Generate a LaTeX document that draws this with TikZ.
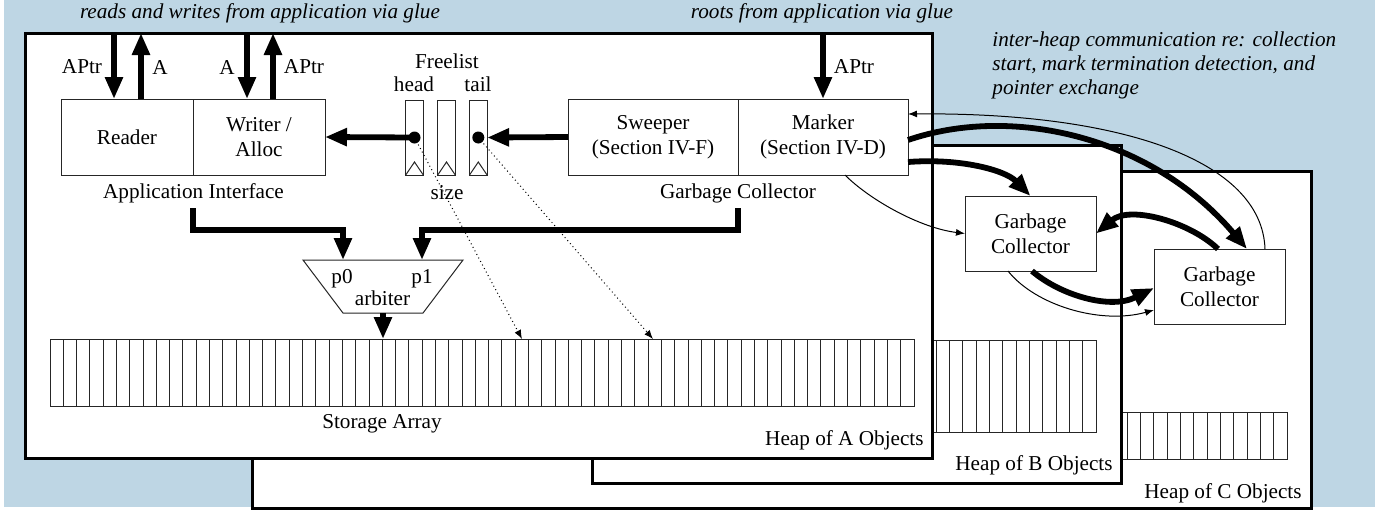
\documentclass[tikz,border=0pt]{standalone}
\usepackage{fontspec}
\setmainfont{Liberation Serif}
\usetikzlibrary{arrows.meta,calc}
\definecolor{bgblue}{RGB}{190,214,228}
\begin{document}
\begin{tikzpicture}[x=0.5pt,y=-0.5pt,
  font=\fontsize{10.6}{12.7}\selectfont,
  box/.style={draw=black!85,line width=0.5pt,fill=white,inner sep=0pt,outer sep=0pt,align=center},
  heap/.style={draw,line width=1.5pt,fill=white,inner sep=0pt,outer sep=0pt},
  thickarrow/.style={line width=2.9pt,-{Triangle[length=11pt,width=8.5pt]}},
  thinarrow/.style={line width=0.5pt,-{Latex[length=4.5pt,width=3.5pt]}},
  dotarrow/.style={line width=0.5pt,dash pattern=on 0.5pt off 1.5pt,-{Latex[length=4.5pt,width=3.5pt]}},
  cell/.style={line width=0.5pt,draw=black!85},
  lbl/.style={inner sep=0pt},
  note/.style={inner sep=0pt,font=\fontsize{10.6}{12}\selectfont\itshape}
]
\useasboundingbox (0,0) rectangle (1377,511);
\fill[bgblue] (4,0) rectangle (1375,507);

% ---------- heap C ----------
\node[heap,minimum width=529.5pt,minimum height=168.5pt] (heapC) at (781.5,339.5) {};
\draw[cell] (753.67,412) rectangle (1287,459);
\foreach \i in {1,...,39} \draw[cell] ({753.67+\i*13.3333},412) -- ++(0,47);
\node[box,minimum width=65.5pt,minimum height=37.5pt] (gcC) at (1219.5,286.5) {Garbage\\Collector};
\node[lbl,anchor=east] (hCl) at (1302,493) {Heap of C Objects};

% ---------- heap B ----------
\node[heap,minimum width=264.5pt,minimum height=169pt] (heapB) at (856.5,314) {};
\draw[cell] (616,340) rectangle (1096,432);
\foreach \i in {1,...,35} \draw[cell] ({616+\i*13.3333},340) -- ++(0,92);
\node[box,minimum width=65.5pt,minimum height=37.5pt] (gcB) at (1030.5,233.5) {Garbage\\Collector};
\node[lbl,anchor=east] (hBl) at (1113,465) {Heap of B Objects};

% ---------- heap A ----------
\node[heap,minimum width=453.5pt,minimum height=212.5pt] (heapA) at (478.5,245.5) {};
\node[lbl,anchor=east] (hAl) at (924,440) {Heap of A Objects};

\node[box,minimum width=66pt,minimum height=38pt] (reader) at (127,137) {Reader};
\node[box,minimum width=66pt,minimum height=38pt] (writer) at (259,137) {Writer /\\Alloc};
\node[box,minimum width=85pt,minimum height=38pt] (sweeper) at (653,137) {Sweeper\\(Section IV-F)};
\node[box,minimum width=85pt,minimum height=38pt] (marker) at (823,137) {Marker\\(Section IV-D)};

\node[lbl] (ailbl) at (193.5,193) {Application Interface};
\node[lbl] (gclbl) at (738,193) {Garbage Collector};

% freelist
\node[box,minimum width=8.8pt,minimum height=37.5pt] (fl1) at (414.5,137.5) {};
\node[box,minimum width=8.8pt,minimum height=37.5pt] (fl2) at (446.5,137.5) {};
\node[box,minimum width=8.8pt,minimum height=37.5pt] (fl3) at (478.3,137.5) {};
\foreach \s in {fl1,fl2,fl3}
  \draw[line width=0.5pt,draw=black!85] (\s.south west) -- ($(\s.south)+(0,-13)$) -- (\s.south east);
\node[circle,fill=black,inner sep=0pt,minimum size=6pt] (hd) at (fl1.center) {};
\node[circle,fill=black,inner sep=0pt,minimum size=6pt] (td) at (fl3.center) {};
\node[lbl] (fltitle) at (447,61) {Freelist};
\node[lbl] (headlbl) at (414,84) {head};
\node[lbl] (taillbl) at (478,84) {tail};
\node[lbl] (sizelbl) at (447,193) {size};

% top arrows
\coordinate (r1) at ($(reader.north)+(-13,0)$);
\coordinate (r2) at ($(reader.north)+(14,0)$);
\coordinate (w1) at ($(writer.north)+(-12,0)$);
\coordinate (w2) at ($(writer.north)+(14,0)$);
\draw[thickarrow] (r1 |- heapA.north) -- (r1);
\draw[thickarrow] (r2) -- (r2 |- heapA.north);
\draw[thickarrow] (w1 |- heapA.north) -- (w1);
\draw[thickarrow] (w2) -- (w2 |- heapA.north);
\draw[thickarrow] (marker.north |- heapA.north) -- (marker.north);
\node[lbl] (lAPtr1) at (82,67) {APtr};
\node[lbl] (lA1) at (160,67) {A};
\node[lbl] (lA2) at (227,67) {A};
\node[lbl] (lAPtr2) at (304,67) {APtr};
\node[lbl] (lAPtr3) at (854,67) {APtr};

% freelist arrows
\draw[thickarrow] (hd.center) -- (writer.east);
\draw[thickarrow] (sweeper.west) -- (fl3.east);

% arbiter
\coordinate (arbTL) at (303,260);
\coordinate (arbTR) at (463,260);
\coordinate (arbBR) at (423,313);
\coordinate (arbBL) at (343,313);
\filldraw[fill=white,draw=black!85,line width=0.5pt] (arbTL) -- (arbTR) -- (arbBR) -- (arbBL) -- cycle;
\coordinate (arbIn0) at (343,260);
\coordinate (arbIn1) at (422,260);
\coordinate (arbOut) at (383,313);
\node[lbl] (p0) at (342,279) {p0};
\node[lbl] (p1) at (422,279) {p1};
\node[lbl] (arblbl) at (382.5,298) {arbiter};
\coordinate (aiOut) at (193,208);
\coordinate (gcOut) at (738,208);
\draw[thickarrow] (aiOut) |- ($(arbIn0)+(0,-30)$) -- (arbIn0);
\draw[thickarrow] (gcOut) |- ($(arbIn1)+(0,-30)$) -- (arbIn1);

% storage array A
\draw[cell] (50,339) rectangle (914,406);
\foreach \i in {1,...,64} \draw[cell] ({50+\i*13.2923},339) -- ++(0,67);
\coordinate (arrAin) at (383,339);
\coordinate (arrAp1) at (522,339);
\coordinate (arrAp2) at (653,339);
\node[lbl] (salbl) at (382,424) {Storage Array};
\draw[thickarrow] (arbOut) -- (arrAin);
\draw[dotarrow] (hd.center) -- (arrAp1);
\draw[dotarrow] (td.center) -- (arrAp2);

% notes
\node[note] (n1) at (260,13) {reads and writes from application via glue};
\node[note] (n2) at (822,13) {roots from application via glue};
\node[note,anchor=west,align=left] (n3) at (992,65) {inter-heap communication re: collection\\start, mark termination detection, and\\pointer exchange};

% inter-heap communication
\draw[thickarrow] ($(marker.east)+(0,3)$) .. controls (1010,105) and (1150,135) .. ($(gcC.north)+(27.5,0)$);
\draw[thickarrow] ($(marker.east)+(0,25)$) .. controls (960,158) and (1005,170) .. (gcB.north);
\draw[thinarrow] ($(marker.south)+(22,0)$) .. controls (870,200) and (920,228) .. (gcB.west);
\draw[thinarrow] ($(gcC.north)+(45.5,0)$) .. controls (1262,160) and (1120,112) .. ($(marker.east)+(0,-23)$);
\draw[thickarrow] ($(gcC.north)+(-1.5,0)$) .. controls (1190,222) and (1130,205) .. (gcB.east);
\draw[thickarrow] ($(gcB.south)+(1.5,0)$) .. controls (1060,295) and (1110,310) .. ($(gcC.west)+(0,1.5)$);
\draw[thinarrow] ($(gcB.south)+(-22.5,0)$) .. controls (1035,305) and (1100,325) .. ($(gcC.west)+(0,23.5)$);
\end{tikzpicture}
\end{document}
